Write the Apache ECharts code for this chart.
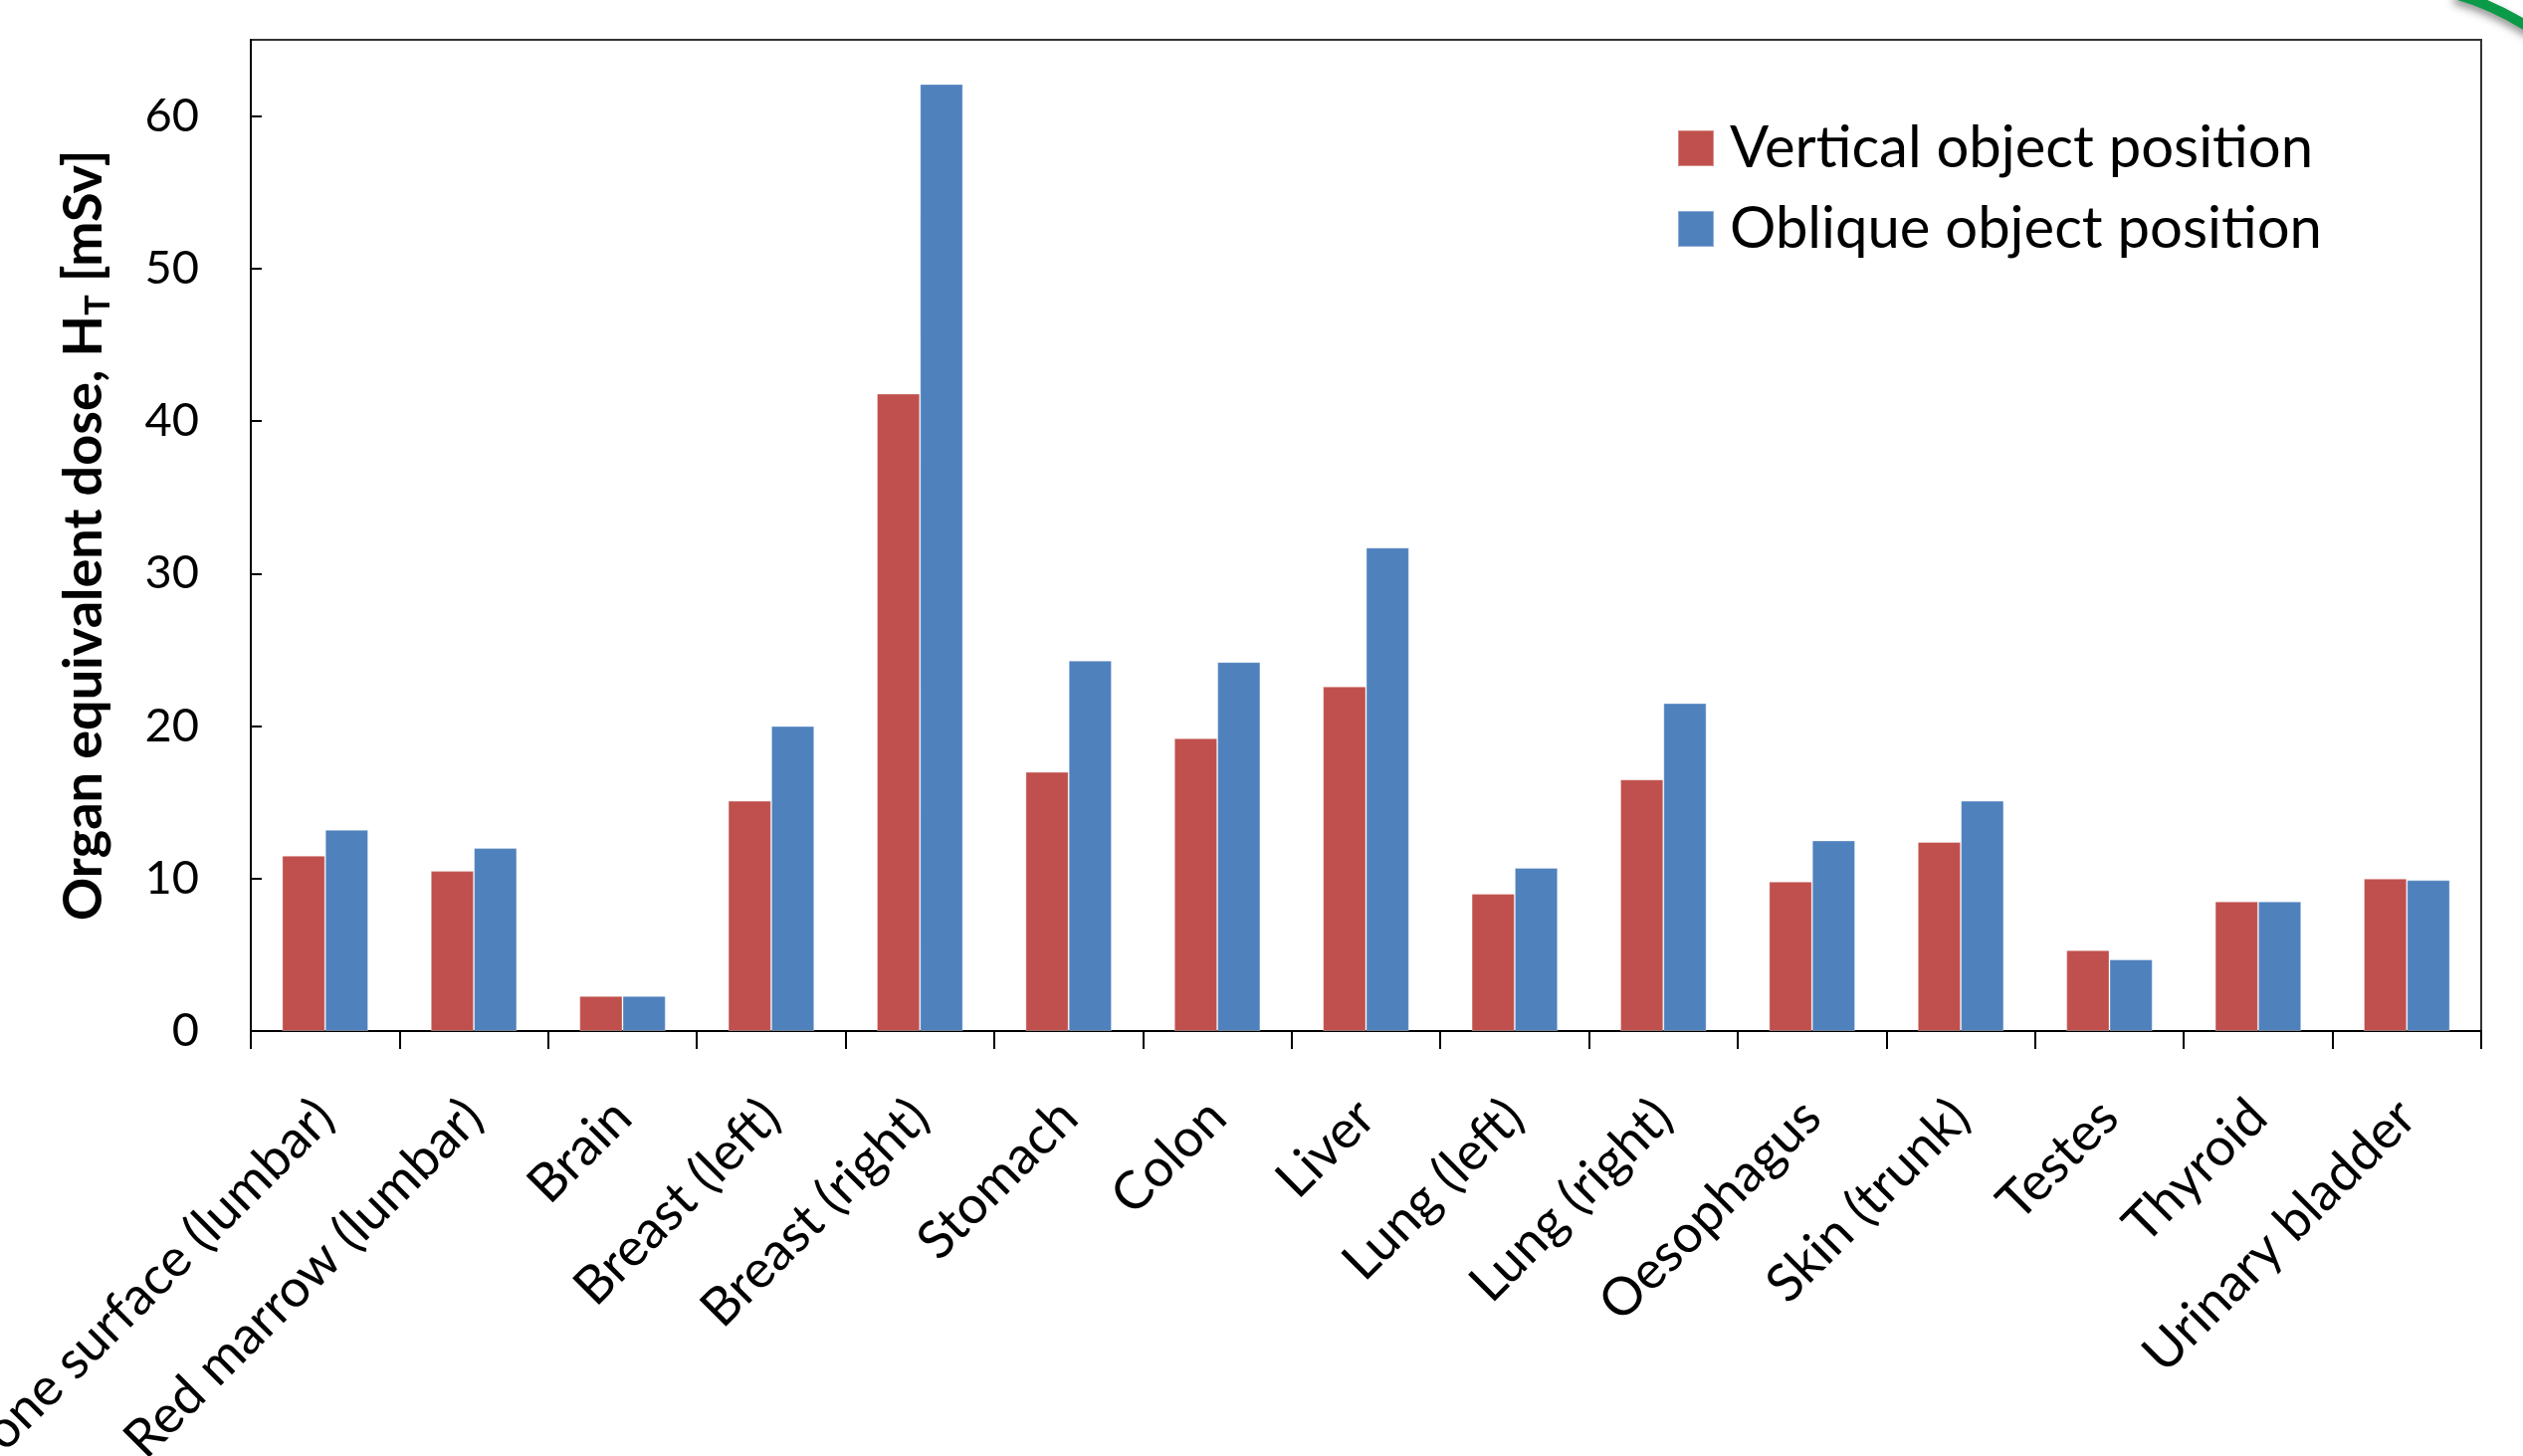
<!DOCTYPE html>
<html>
<head>
<meta charset="utf-8">
<script src="https://cdn.jsdelivr.net/npm/echarts@6/dist/echarts.min.js"></script>
<style>
html,body{margin:0;padding:0;background:#fff;}
#chart{width:2535px;height:1463px;}
</style>
</head>
<body>
<div id="chart"></div>
<script>
const categories = ['Bone surface (lumbar)','Red marrow (lumbar)','Brain','Breast (left)','Breast (right)','Stomach','Colon','Liver','Lung (left)','Lung (right)','Oesophagus','Skin (trunk)','Testes','Thyroid','Urinary bladder'];
const verticalValues = [11.5, 10.5, 2.3, 15.1, 41.8, 17.0, 19.2, 22.6, 9.0, 16.5, 9.8, 12.4, 5.3, 8.5, 10.0];
const obliqueValues = [13.2, 12.0, 2.3, 20.0, 62.1, 24.3, 24.2, 31.7, 10.7, 21.5, 12.5, 15.1, 4.7, 8.5, 9.9];
const seriesNames = ['Vertical object position', 'Oblique object position'];
const yTicks = {min: 0, max: 65, interval: 10};

const FONT = 'Lato, "Open Sans", sans-serif';
const chart = echarts.init(document.getElementById('chart'), null, {renderer: 'canvas'});
chart.setOption({
  animation: false,
  backgroundColor: '#ffffff',
  grid: {left: 252, top: 40, right: 42, bottom: 427, containLabel: false, outerBoundsMode: 'none',
         show: true, borderColor: '#333', borderWidth: 2, backgroundColor: 'transparent'},
  legend: {
    orient: 'vertical', left: 1680, top: 115,
    itemWidth: 36, itemHeight: 36, itemGap: 23,
    icon: 'rect',
    textStyle: {fontFamily: FONT, fontSize: 58, lineHeight: 58, color: '#000', padding: [0, 0, 0, 11]},
    data: seriesNames
  },
  xAxis: {
    type: 'category', data: categories, boundaryGap: true,
    axisLine: {lineStyle: {color: '#000', width: 2}},
    axisTick: {show: true, alignWithLabel: false, length: 18, lineStyle: {color: '#000', width: 2}},
    axisLabel: {interval: 0, rotate: 45, margin: 78, fontFamily: FONT, fontSize: 53, color: '#000'},
    splitLine: {show: false}
  },
  yAxis: {
    type: 'value', min: yTicks.min, max: yTicks.max, interval: yTicks.interval,
    name: '{a|Organ equivalent dose, H}{s|T}{a| [mSv]}',
    nameLocation: 'middle', nameGap: 136, nameRotate: 90,
    nameTextStyle: {
      rich: {
        a: {fontFamily: FONT, fontWeight: 'bold', fontSize: 54, lineHeight: 62, color: '#000'},
        s: {fontFamily: FONT, fontWeight: 'bold', fontSize: 34, lineHeight: 42, verticalAlign: 'bottom', color: '#000'}
      }
    },
    axisLine: {show: true, lineStyle: {color: '#000', width: 2}},
    axisTick: {show: true, inside: true, length: 11, lineStyle: {color: '#000', width: 2}},
    axisLabel: {showMaxLabel: false, margin: 52, fontFamily: FONT, fontSize: 47, color: '#000'},
    splitLine: {show: false}
  },
  series: [
    {name: seriesNames[0], type: 'bar', data: verticalValues, barGap: '0%', barCategoryGap: '42%',
     itemStyle: {color: '#C0504D', borderColor: 'rgba(255,255,255,0.35)', borderWidth: 1}},
    {name: seriesNames[1], type: 'bar', data: obliqueValues, barGap: '0%', barCategoryGap: '42%',
     itemStyle: {color: '#4F81BD', borderColor: 'rgba(255,255,255,0.35)', borderWidth: 1}}
  ],
  graphic: [
    {type: 'bezierCurve', shape: {x1: 2466, y1: -6, cpx1: 2505, cpy1: 4, x2: 2548, y2: 32},
     style: {stroke: '#0A9A48', lineWidth: 10, fill: null, shadowBlur: 8, shadowColor: 'rgba(0,0,0,0.45)', shadowOffsetY: 5}}
  ]
});
</script>
</body>
</html>
